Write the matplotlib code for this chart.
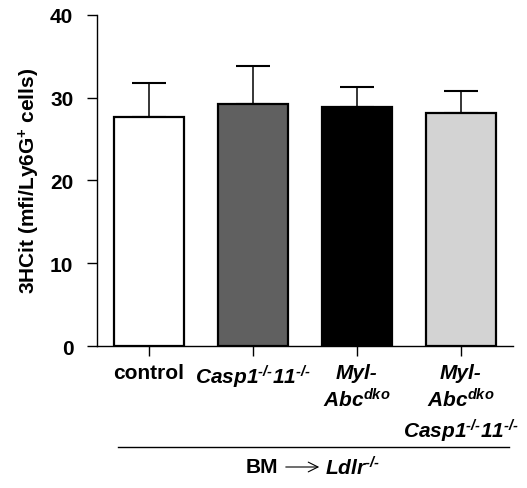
import numpy as np
import matplotlib
matplotlib.use("Agg")
import matplotlib.pyplot as plt
from matplotlib.lines import Line2D
from matplotlib.patches import FancyArrowPatch

plt.rcParams['font.family'] = ['Liberation Sans', 'DejaVu Sans']
plt.rcParams['font.weight'] = 'bold'
plt.rcParams['mathtext.fontset'] = 'custom'
plt.rcParams['mathtext.rm'] = 'Liberation Sans:bold:italic'
plt.rcParams['mathtext.it'] = 'Liberation Sans:bold:italic'
plt.rcParams['mathtext.bf'] = 'Liberation Sans:bold:italic'
plt.rcParams['mathtext.sf'] = 'Liberation Sans:bold'

KO = "$^{\u2010/\u2010}$"  # -/- superscript with real hyphens

# data
groups = ["control",
          "Casp1" + KO + "11" + KO,
          "Myl-\nAbc$^{dko}$",
          "Myl-\nAbc$^{dko}$\nCasp1" + KO + "11" + KO]
means = [27.7, 29.2, 28.8, 28.1]
errs = [4.1, 4.6, 2.5, 2.7]
bar_colors = ["white", "#606060", "black", "#d3d3d3"]
yticks = [0, 10, 20, 30, 40]

fig = plt.figure(figsize=(5.27, 4.89), dpi=100)
ax = fig.add_axes([0.184, 0.290, 0.789, 0.678])

x = np.arange(len(groups))
ax.bar(x, means, width=0.67, color=bar_colors, edgecolor="black", linewidth=1.6, zorder=2)
ax.errorbar(x, means, yerr=[np.zeros(len(errs)), errs], fmt="none", ecolor="black",
            elinewidth=1.1, capsize=12, capthick=1.5, zorder=1)

ax.set_xlim(-0.5, 3.5)
ax.set_ylim(0, 40)
ax.set_yticks(yticks)
ax.set_yticklabels([str(t) for t in yticks], fontsize=15, fontweight="bold")
ax.set_xticks(x)
ax.set_xticklabels(groups, fontsize=15, fontweight="bold", linespacing=1.3)
for i, lab in enumerate(ax.get_xticklabels()):
    if i > 0:
        lab.set_fontstyle("italic")
ax.tick_params(axis="y", length=7, width=1, pad=10)
ax.tick_params(axis="x", length=7, width=1, pad=5)
ax.spines["top"].set_visible(False)
ax.spines["right"].set_visible(False)
ax.spines["left"].set_linewidth(1)
ax.spines["bottom"].set_linewidth(1)

ax.set_ylabel("3HCit (mfi/Ly6G$^{\\mathsf{+}}$ cells)", fontsize=15, fontweight="bold", labelpad=6)

# group line and BM -> Ldlr-/- annotation
fig.add_artist(Line2D([118 / 527, 509 / 527], [1 - 448 / 489, 1 - 448 / 489],
                      color="black", linewidth=1))
yb = 1 - 468 / 489
fig.text(262 / 527, yb, "BM", fontsize=15, fontweight="bold", ha="center", va="center")
fig.text(325 / 527, yb, "Ldlr" + KO, fontsize=15, fontweight="bold", fontstyle="italic",
         ha="left", va="center")
fig.add_artist(FancyArrowPatch((283 / 527, yb), (322 / 527, yb),
                               transform=fig.transFigure,
                               arrowstyle="->,head_length=7,head_width=3.5",
                               color="black", linewidth=0.8))

fig.savefig("out.png", dpi=100)
